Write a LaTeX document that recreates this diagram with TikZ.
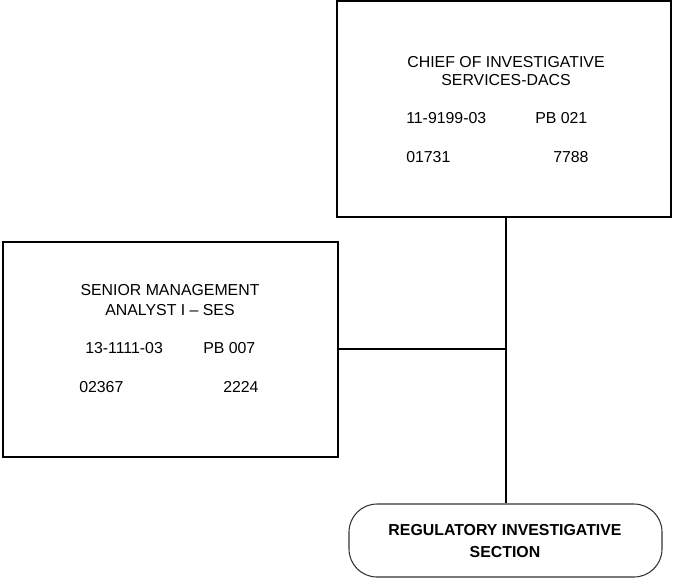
\documentclass[tikz,border=0pt]{standalone}
\usepackage{fontspec}
\setmainfont{Liberation Sans}
\begin{document}
\begin{tikzpicture}[x=0.75pt,y=-0.75pt,
  posbox/.style={draw, line width=1.6pt, inner sep=0pt},
  unitbox/.style={draw=black!80, line width=0.8pt, rounded corners=21pt, inner sep=0pt},
  title/.style={inner sep=0pt, anchor=north, align=center},
  code/.style={inner sep=0pt, anchor=base west, font=\fontsize{11.9}{13.7}\selectfont}]
\useasboundingbox (0,0) rectangle (673,579);

% position boxes
\node[posbox, minimum width=250.5pt, minimum height=162pt] (chief) at (504,109) {};
\node[posbox, minimum width=251.25pt, minimum height=161.25pt] (senior) at (170.5,349.5) {};
\node[unitbox, minimum width=234.75pt, minimum height=54.75pt] (reg) at (505.5,540.5) {};

% chief of investigative services
\node[title, font=\fontsize{11.9}{13.7}\selectfont] (chieft) at (506,56.3) {CHIEF OF INVESTIGATIVE\\SERVICES-DACS};
\node[code] (chiefa) at (406,123.7) {11-9199-03};
\node[code] (chiefb) at (535,123.7) {PB 021};
\node[code] (chiefc) at (406,162.7) {01731};
\node[code] (chiefd) at (553,162.7) {7788};

% senior management analyst
\node[title, font=\fontsize{11.9}{15}\selectfont] (seniort) at (170,284.3) {SENIOR MANAGEMENT\\ANALYST I – SES};
\node[code] (seniora) at (85,353.7) {13-1111-03};
\node[code] (seniorb) at (203,353.7) {PB 007};
\node[code] (seniorc) at (79,392.7) {02367};
\node[code] (seniord) at (223,392.7) {2224};

% section
\node[title, font=\bfseries\fontsize{11.9}{16.3}\selectfont] (regt) at (505,524.3) {REGULATORY INVESTIGATIVE\\SECTION};

% connectors
\coordinate (j) at (506,349);
\draw[line width=1.6pt] (chief.south -| j) -- (reg.north -| j);
\draw[line width=1.6pt] (senior.east |- j) -- (j);
\end{tikzpicture}
\end{document}
